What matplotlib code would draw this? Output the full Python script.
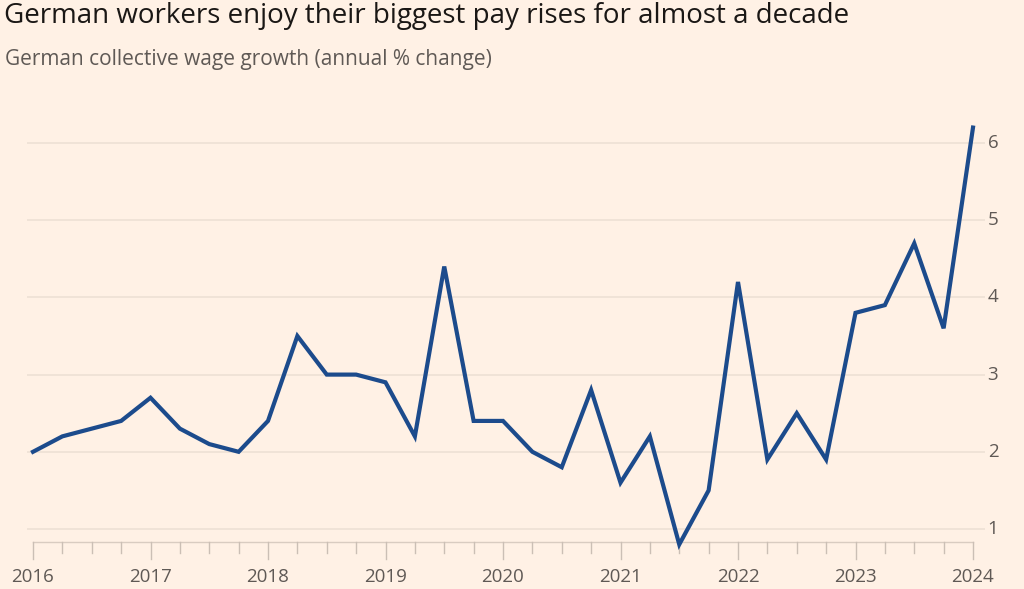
import matplotlib.pyplot as plt
import numpy as np

# quarterly data, 2016 Q1 .. 2024 Q1
quarters = np.arange(33) / 4 + 2016
wage_growth = [
    2.0, 2.2, 2.3, 2.4,
    2.7, 2.3, 2.1, 2.0,
    2.4, 3.5, 3.0, 3.0,
    2.9, 2.2, 4.4, 2.4,
    2.4, 2.0, 1.8, 2.8,
    1.6, 2.2, 0.8, 1.5,
    4.2, 1.9, 2.5, 1.9,
    3.8, 3.9, 4.7, 3.6,
    6.2,
]
year_ticks = list(range(2016, 2025))
y_ticks = [1, 2, 3, 4, 5, 6]

BG = "#fff1e5"
LINE = "#1c4b8c"
GRID = "#ecdfd4"
TEXT = "#5f5955"

fig = plt.figure(figsize=(10.24, 5.89), dpi=100, facecolor=BG)
ax = fig.add_axes([27 / 1024, 1 - 552 / 589, (985 - 27) / 1024, (552 - 100) / 589])
ax.set_facecolor(BG)

# x: 2016 -> px 33, 2024 -> px 973
px_per_year = (973 - 33) / 8
x0 = 2016 - (33 - 27) / px_per_year
x1 = 2024 + (985 - 973) / px_per_year
ax.set_xlim(x0, x1)
# y: 6 -> px 143, 1 -> px 529
px_per_unit = (529 - 143) / 5
ax.set_ylim(1 - (552 - 529) / px_per_unit, 6 + (143 - 100) / px_per_unit)

for v in y_ticks:
    ax.axhline(v, color=GRID, lw=1.1, zorder=1)

# baseline with quarterly ticks
base = 1 - (542 - 529) / px_per_unit
ax.plot([2016, 2024], [base, base], color="#d9ccc1", lw=1.0, zorder=1, clip_on=False)
tick_q = 11 / px_per_unit
tick_y = 17 / px_per_unit
for q in quarters:
    is_year = abs(q - round(q)) < 1e-6
    ln = tick_y if is_year else tick_q
    ax.plot([q, q], [base, base - ln], color="#cbbfb5", lw=1.0, zorder=1, clip_on=False)

ax.plot(quarters, wage_growth, color=LINE, lw=3.0, solid_joinstyle="miter", zorder=3, clip_on=False)

for s in ax.spines.values():
    s.set_visible(False)
ax.set_xticks([])
ax.set_yticks([])

for v in y_ticks:
    ax.text(x1 + 8 / px_per_year, v, str(v), ha="center", va="center",
            fontsize=13.5, color=TEXT, family="Open Sans")
for yr in year_ticks:
    ax.text(yr, base - 35 / px_per_unit, str(yr), ha="center", va="center",
            fontsize=13.5, color=TEXT, family="Open Sans")

fig.text(4 / 1024, 1 - 16 / 589, "German workers enjoy their biggest pay rises for almost a decade",
         ha="left", va="center", fontsize=20, color="#1a1715", family="Open Sans",
         weight="medium")
fig.text(5 / 1024, 1 - 60 / 589, "German collective wage growth (annual % change)",
         ha="left", va="center", fontsize=15, color=TEXT, family="Open Sans")

fig.savefig("out.png", dpi=100, facecolor=BG)
